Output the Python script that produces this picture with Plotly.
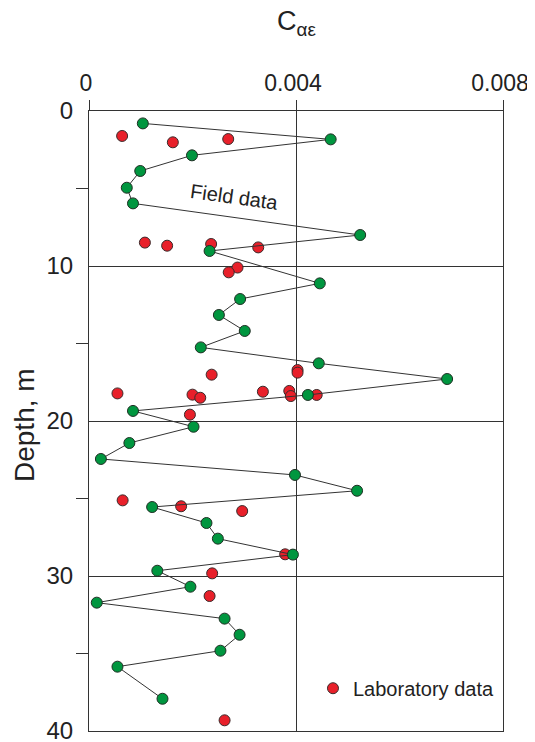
import plotly.graph_objects as go

# Field data (connected series), in order of depth
field_c = [0.00104, 0.00467, 0.00199, 0.00099, 0.00073, 0.00085, 0.00524, 0.00233,
           0.00446, 0.00292, 0.00251, 0.00301, 0.00216, 0.00444, 0.00692, 0.00423,
           0.00085, 0.00202, 0.00078, 0.00023, 0.00398, 0.00518, 0.00122, 0.00227,
           0.00249, 0.00394, 0.00132, 0.00196, 0.00015, 0.00262, 0.00291, 0.00254,
           0.00055, 0.00142]
field_depth = [0.8, 1.83, 2.86, 3.87, 4.95, 5.96, 8.0, 9.03,
               11.12, 12.13, 13.16, 14.19, 15.25, 16.28, 17.29, 18.32,
               19.35, 20.37, 21.42, 22.45, 23.48, 24.5, 25.55, 26.58,
               27.59, 28.62, 29.66, 30.69, 31.72, 32.75, 33.79, 34.82,
               35.85, 37.92]

# Laboratory data (scattered points)
lab_c = [0.00064, 0.00162, 0.00269, 0.00108, 0.00151, 0.00236, 0.00327, 0.00287,
         0.00270, 0.00237, 0.00403, 0.00403, 0.00055, 0.00200, 0.00215, 0.00336,
         0.00387, 0.00390, 0.00440, 0.00195, 0.00065, 0.00178, 0.00296, 0.00379,
         0.00238, 0.00233, 0.00262]
lab_depth = [1.61, 2.02, 1.81, 8.49, 8.69, 8.58, 8.8, 10.1,
             10.41, 17.01, 16.71, 16.88, 18.22, 18.3, 18.5, 18.11,
             18.06, 18.39, 18.32, 19.59, 25.12, 25.5, 25.81, 28.6,
             29.83, 31.29, 39.31]

x_ticks = [0, 0.004, 0.008]
x_ticktext = ["0", "0.004", "0.008"]
y_ticks = [0, 10, 20, 30, 40]
y_minor = [5, 15, 25, 35]

FONT = "Liberation Sans, Arial, sans-serif"
AX = "#333333"

fig = go.Figure()
fig.add_trace(go.Scatter(
    x=lab_c, y=lab_depth, mode="markers", name="Laboratory data",
    marker=dict(color="#e8202a", size=11, line=dict(color="#3a2a2a", width=1)),
))
fig.add_trace(go.Scatter(
    x=field_c, y=field_depth, mode="lines+markers", name="Field data", showlegend=False,
    line=dict(color="#333333", width=1),
    marker=dict(color="#00963f", size=11, line=dict(color="#1f2f24", width=1)),
))

fig.update_layout(
    width=535, height=742,
    margin=dict(l=81, r=40, t=103, b=19, autoexpand=False),
    paper_bgcolor="white", plot_bgcolor="white",
    font=dict(family=FONT, color="#222222"),
    showlegend=True,
    legend=dict(x=0.541, y=0.069, xanchor="left", yanchor="middle",
                font=dict(family=FONT, size=20, color="#222222"),
                bgcolor="rgba(0,0,0,0)", borderwidth=0),
    xaxis=dict(side="top", range=[0, 0.008], tickvals=x_ticks, ticktext=x_ticktext,
               ticks="outside", ticklen=10, tickcolor=AX, tickwidth=1,
               showgrid=True, gridcolor=AX, gridwidth=1, automargin=False,
               showline=True, linecolor=AX, linewidth=1, mirror=True, zeroline=False,
               ticklabelshift=-3,
               tickfont=dict(size=23, family=FONT, color="#222222")),
    yaxis=dict(range=[40, 0], tickvals=y_ticks, ticks="", automargin=False,
               showgrid=True, gridcolor=AX, gridwidth=1,
               showline=True, linecolor=AX, linewidth=1, mirror=True, zeroline=False,
               tickfont=dict(size=24, family=FONT, color="#222222"),
               ticklabelstandoff=10,
               minor=dict(tickvals=y_minor, ticks="outside", ticklen=12, tickcolor=AX,
                          tickwidth=1, showgrid=False)),
    annotations=[
        dict(text="C<sub>αε</sub>", xref="x", yref="paper", x=0.004, y=1, yshift=88,
             showarrow=False, font=dict(size=27, family=FONT, color="#222222"),
             xanchor="center", yanchor="middle"),
        dict(text="Depth, m", xref="paper", yref="paper", x=0, y=0.5, xshift=-65, yshift=-4,
             textangle=-90, showarrow=False, font=dict(size=28, family=FONT, color="#222222"),
             xanchor="center", yanchor="middle"),
        dict(text="Field data", xref="x", yref="y", x=0.00282, y=5.55, textangle=8,
             showarrow=False, font=dict(size=20, family=FONT, color="#222222"),
             xanchor="center", yanchor="middle"),
    ],
)

fig.write_html("out.html")
